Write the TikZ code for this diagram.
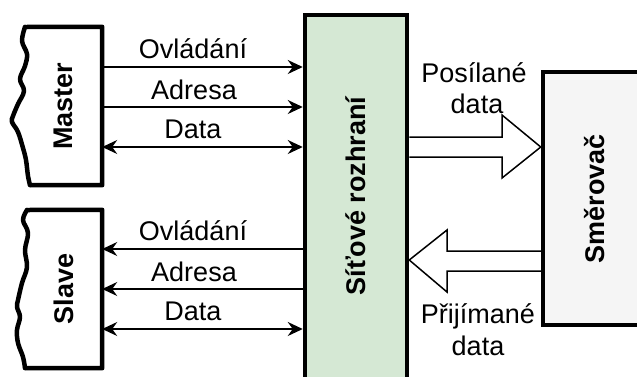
\documentclass[tikz,border=0pt]{standalone}
\usepackage{fontspec}
\setmainfont{Liberation Sans}
\usetikzlibrary{arrows.meta,calc}

\definecolor{ifacegreen}{HTML}{D5E8D4}
\definecolor{routergray}{HTML}{F5F5F5}

\newcommand{\labelfont}{\fontsize{27}{32}\selectfont}

\tikzset{
  unitbox/.style={draw, line width=4.5pt, inner sep=0pt, font=\labelfont\bfseries},
  unitface/.style={fill=white, minimum width=77pt, minimum height=158pt, inner sep=0pt, font=\labelfont\bfseries},
  sig/.style={line width=1.5pt, -{Stealth[length=15pt,width=14pt,inset=5pt]}},
  bisig/.style={line width=1.5pt, {Stealth[length=15pt,width=14pt,inset=5pt]}-{Stealth[length=15pt,width=14pt,inset=5pt]}},
  siglabel/.style={anchor=base, inner sep=0pt},
  bigarrow/.style={draw, fill=white, line width=1.5pt, line join=miter},
  tornedge/.style={line width=4.5pt, line cap=round, line join=round}
}

\begin{document}
\begin{tikzpicture}[x=1pt, y=-1pt, font=\labelfont]
  \useasboundingbox (0,0) rectangle (637,376);
  \clip (0,0) rectangle (637,376);

  % Master and Slave units (left edge is drawn torn)
  \node[unitface] (master) at (63.5,106) {\rotatebox{90}{Master}};
  \node[unitface] (slave)  at (63.5,289) {\rotatebox{90}{Slave}};

  \draw[tornedge] (25,27) -- (master.north east) -- (master.south east) -- (30,185);
  \draw[tornedge] plot[smooth, tension=0.6] coordinates {
    (25,27) (22,41) (27,54) (25,66) (20,79) (24,91) (18,104) (13,116)
    (12,122) (18,132) (23,148) (26,160) (28,176) (30,185)};

  \draw[tornedge] (27,210) -- (slave.north east) -- (slave.south east) -- (25,368);
  \draw[tornedge] plot[smooth, tension=0.6] coordinates {
    (27,210) (23,220) (28,233) (25,250) (27,267) (22,283) (18,300) (17,307)
    (20,317) (17,330) (18,343) (23,357) (25,368)};

  % Network interface (runs off the lower edge)
  \node[unitbox, fill=ifacegreen, minimum width=102pt, minimum height=400pt]
    (iface) at (356,215) {};
  \node (ifacetext) at (356,196) {\bfseries\rotatebox{90}{Síťové rozhraní}};

  % Router (runs off the right edge)
  \node[unitbox, fill=routergray, minimum width=104pt, minimum height=253pt]
    (router) at (595,198.5) {\rotatebox{90}{Směrovač}};

  % Master -> interface signals
  \draw[sig]   (master.east |- 0,67)  -- (iface.west |- 0,67);
  \draw[sig]   (master.east |- 0,107) -- (iface.west |- 0,107);
  \draw[bisig] (master.east |- 0,147) -- (iface.west |- 0,147);
  \node[siglabel] (mctl)  at (193,58)  {Ovládání};
  \node[siglabel] (maddr) at (194,99)  {Adresa};
  \node[siglabel] (mdata) at (193,138) {Data};

  % Interface -> Slave signals
  \draw[sig]   (iface.west |- 0,249) -- (slave.east |- 0,249);
  \draw[sig]   (iface.west |- 0,289) -- (slave.east |- 0,289);
  \draw[bisig] (slave.east |- 0,329) -- (iface.west |- 0,329);
  \node[siglabel] (sctl)  at (193,240) {Ovládání};
  \node[siglabel] (saddr) at (194,281) {Adresa};
  \node[siglabel] (sdata) at (193,320) {Data};

  % Sent data: interface -> router
  \draw[bigarrow] (iface.east |- 0,137) -- (502,137) -- (502,115)
    -- (router.west |- 0,147) -- (502,178) -- (502,157) -- (iface.east |- 0,157);
  \node[siglabel] (sent1) at (474,82)  {Posílané};
  \node[siglabel] (sent2) at (477,113) {data};

  % Received data: router -> interface
  \draw[bigarrow] (router.west |- 0,251) -- (447,251) -- (447,230)
    -- (iface.east |- 0,260) -- (447,292) -- (447,271) -- (router.west |- 0,271);
  \node[siglabel] (recv1) at (478,323) {Přijímané};
  \node[siglabel] (recv2) at (478,355) {data};
\end{tikzpicture}
\end{document}
